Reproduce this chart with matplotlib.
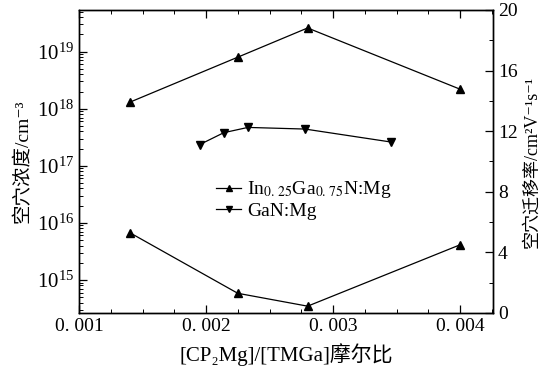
import numpy as np
import matplotlib
matplotlib.use('Agg')
import matplotlib.pyplot as plt
from matplotlib.ticker import LogLocator, MultipleLocator, NullFormatter

plt.rcParams['font.family'] = ['Liberation Serif', 'Noto Sans CJK SC', 'DejaVu Serif']
plt.rcParams['mathtext.fontset'] = 'stix'

# InGaN:Mg hole concentration (cm^-3) and mobility (cm^2/Vs)
x_ingan = [0.0014, 0.00225, 0.0028, 0.0040]
conc_ingan = [1.3e18, 8.0e18, 2.6e19, 2.2e18]
mob_ingan = [5.3, 1.3, 0.45, 4.5]

# GaN:Mg hole concentration
x_gan = [0.00195, 0.00214, 0.00233, 0.00278, 0.00346]
conc_gan = [2.35e17, 3.8e17, 4.7e17, 4.4e17, 2.6e17]

xticks = [0.001, 0.002, 0.003, 0.004]
xticklabels = ['0. 001', '0. 002', '0. 003', '0. 004']
label_ingan = r'In$_{0.\,25}$Ga$_{0.\,75}$N:Mg'
label_gan = 'GaN:Mg'

fig = plt.figure(figsize=(5.46, 3.73), dpi=100)
ax = fig.add_axes([0.1447, 0.1609, 0.903 - 0.1447, 0.9732 - 0.1609])
ax2 = ax.twinx()

l1, = ax.plot(x_ingan, conc_ingan, 'k-^', lw=0.9, ms=5.5, label=label_ingan)
l2, = ax.plot(x_gan, conc_gan, 'k-v', lw=0.9, ms=5.5, label=label_gan)
ax2.plot(x_ingan, mob_ingan, 'k-^', lw=0.9, ms=5.5)

ax.set_yscale('log')
ax.set_ylim(10**14.42, 10**19.73)
ax.set_xlim(0.001, 0.00426)
ax2.set_ylim(0, 20)

ax.set_xticks(xticks)
ax.set_xticklabels(xticklabels)
ax.xaxis.set_minor_locator(MultipleLocator(0.00025))
ax.set_yticks([1e15, 1e16, 1e17, 1e18, 1e19])
ax.yaxis.set_minor_locator(LogLocator(base=10, subs=np.arange(2, 10), numticks=20))
ax.yaxis.set_minor_formatter(NullFormatter())
ax2.yaxis.set_major_locator(MultipleLocator(4))
ax2.yaxis.set_minor_locator(MultipleLocator(2))

ax.tick_params(which='both', direction='in', top=True)
ax.tick_params(axis='x', labelsize=14)
ax.tick_params(axis='y', labelsize=15)
ax.tick_params(which='major', length=6, width=0.9)
ax.tick_params(which='minor', length=3, width=0.7)
ax2.tick_params(which='both', direction='in', labelsize=14)
ax2.tick_params(which='major', length=6, width=0.9)
ax2.tick_params(which='minor', length=3, width=0.7)
for a in (ax, ax2):
    for s in a.spines.values():
        s.set_linewidth(1.0)

ax.set_xlabel('[CP₂Mg]/[TMGa]摩尔比', fontsize=15, labelpad=6)
ax.set_ylabel('空穴浓度/cm⁻³', fontsize=14)
ax2.set_ylabel('空穴迁移率/cm²V⁻¹s⁻¹', fontsize=13)

fig.legend(handles=[l1, l2], loc='upper left', bbox_to_anchor=(0.378, 0.545),
           frameon=False, fontsize=14, handlelength=1.3, handletextpad=0.3,
           markerscale=0.8, labelspacing=0.1, borderpad=0)

fig.savefig('out.png', dpi=100)
